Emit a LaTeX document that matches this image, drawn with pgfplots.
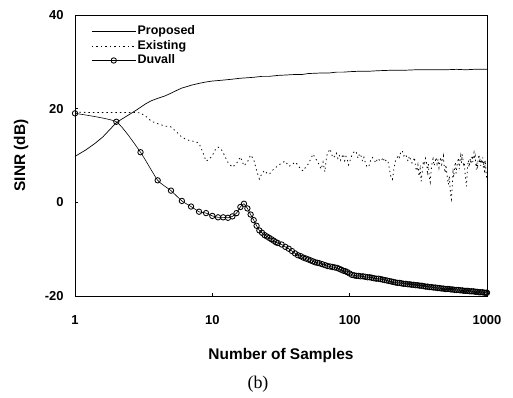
\documentclass[border=0pt]{standalone}
\usepackage{fontspec}
\setmainfont{Liberation Sans}
\newfontfamily\capfont{Liberation Serif}
\usepackage{pgfplots}
\pgfplotsset{compat=1.18}
\begin{document}
\begin{tikzpicture}
\useasboundingbox (-75bp,-102bp) rectangle (438bp,296bp);
\begin{axis}[
  at={(0bp,0bp)}, anchor=south west,
  scale only axis, width=412bp, height=281bp,
  xmode=log, log basis x=10,
  xmin=1, xmax=1000, ymin=-20, ymax=40,
  xtick={1,10,100,1000}, xticklabels={1,10,100,1000},
  ytick={-20,0,20,40},
  xminorticks=false, yminorticks=false,
  tick align=inside, xtick pos=bottom, ytick pos=left,
  major tick length=3bp,
  axis line style={line width=0.8bp},
  tick style={line width=0.6bp, black},
  /pgf/number format/assume math mode=true,
  ticklabel style={font=\fontsize{13}{15}\selectfont\bfseries},
  xticklabel style={anchor=north, yshift=-16bp},
  yticklabel style={anchor=east, xshift=-8bp},
  xlabel={Number of Samples},
  ylabel={SINR (dB)},
  label style={font=\fontsize{15.5}{18}\selectfont\bfseries},
  xlabel style={at={(axis description cs:0.5,-0.21)}, anchor=center},
  ylabel style={at={(axis description cs:-0.131,0.5)}, anchor=center},
  legend style={draw=none, fill=none, at={(axis description cs:0.032,0.975)}, anchor=north west,
    font=\fontsize{12.5}{14}\selectfont\bfseries, row sep=0pt,
    nodes={inner sep=1.5bp, text height=9bp, text depth=2.5bp}},
  legend cell align=left,
  legend image code/.code={\draw[mark repeat=2,mark phase=2,#1] plot coordinates {(0bp,0bp) (22bp,0bp) (44bp,0bp)};},
]
% Proposed
\addplot[black, line width=0.7bp] coordinates {
(1,9.8) (1.2,11.2) (1.4,12.6) (1.6,14.0) (1.8,15.6) (2,17.0) (2.2,17.8) (2.5,18.8) (2.8,19.7) (3,20.3)
(3.3,21.1) (3.6,21.7) (4,22.2) (4.5,22.7) (5,23.3) (5.5,23.9) (6,24.4) (6.5,24.7) (7,25.0) (8,25.4)
(9,25.7) (10,25.9) (11,26.0) (12,26.1) (14,26.3) (16,26.5) (18,26.6) (20,26.7) (23,26.9) (26,26.9)
(30,27.1) (35,27.2) (40,27.3) (45,27.3) (50,27.5) (60,27.6) (70,27.6) (80,27.8) (90,27.8) (100,27.9)
(120,28.0) (140,28.0) (160,28.1) (200,28.2) (250,28.2) (300,28.3) (400,28.3) (500,28.3) (600,28.4)
(700,28.3) (800,28.4) (1000,28.4)
};
\addlegendentry{Proposed}
% Existing
\addplot[black, line width=0.8bp, dash pattern=on 1.3bp off 3.2bp] coordinates {
(1,19.3) (1.2,19.2) (1.4,19.2) (1.6,19.2) (1.8,19.2) (2,19.2) (2.3,19.2) (2.6,19.2) (3,19.1) (3.3,18.3)
(3.6,17.3) (4,16.8) (4.5,16.3) (5,16.1) (5.5,15.0) (6,13.9) (6.5,13.4) (7,13.1) (7.5,13.0) (8,12.6)
(8.5,10.8) (9,8.8) (9.5,9.2) (10,10.0) (10.5,11.2) (11,11.8) (11.5,11.5) (12,10.6) (12.5,9.5) (13,8.5)
(14,7.5) (15,8.3) (16,9.7) (17,7.8) (18,8.6) (19,10.1) (20,9.2) (21,6.8) (22,5.0) (23,6.2)
(24,6.8) (25,6.2) (26,6.0) (27,6.6) (28,7.1) (30,7.8) (32,8.4) (34,8.8) (36,7.7) (38,8.0)
(40,8.6) (42,8.0) (44,7.0) (46,6.7) (48,7.6) (50,8.2) (52,9.2) (54,10.3) (56,9.6) (58,8.8)
(60,8.0) (62,7.1) (64,8.6) (66,6.5) (68,9.9) (70,10.8) (72,11.4) (74,10.2) (76,9.5) (78,9.9)
(80,10.5) (82,9.4) (84,10.1) (86,9.0) (88,9.7) (90,10.3) (92,8.9) (94,9.8) (96,9.2) (98,8.0)
(100,8.6) (103,9.8) (106,10.5) (109,11.0) (112,10.6) (115,9.4) (118,10.4) (121,9.9) (124,8.8) (127,9.6)
(130,8.5) (134,7.5) (138,7.7) (142,8.9) (146,9.6) (150,9.2) (155,8.4) (160,9.4) (165,9.0) (170,8.8)
(175,9.6) (180,8.6) (185,9.1) (190,8.8) (195,7.0) (200,5.4) (205,4.9) (210,7.2) (215,8.8) (220,9.2)
(225,10.1) (230,9.6) (236,10.8) (242,11.0) (248,9.9) (254,10.3) (260,9.7) (266,8.8) (272,9.9) (278,9.1)
(284,8.4) (290,8.6) (296,9.6) (302,7.5) (308,6.7) (314,8.0) (320,5.6) (326,7.2) (332,4.5) (338,6.6)
(344,8.8) (350,7.9) (356,9.4) (362,8.8) (368,6.5) (374,8.2) (380,5.4) (386,4.3) (392,6.8) (398,8.4)
(405,9.3) (412,7.8) (419,8.6) (426,9.6) (433,8.2) (440,9.2) (447,7.4) (454,8.8) (461,9.6) (468,8.1)
(475,8.8) (482,9.9) (489,7.2) (496,6.3) (503,8.0) (510,6.0) (517,5.0) (524,3.8) (531,5.6) (538,3.4)
(545,1.2) (552,0.6) (559,4.0) (566,6.5) (573,5.4) (580,7.3) (588,8.6) (596,6.2) (604,7.8) (612,8.6)
(620,9.5) (628,7.1) (636,9.0) (644,10.0) (652,8.4) (660,10.3) (668,9.2) (676,7.6) (684,8.5) (692,6.3)
(700,5.0) (708,3.4) (716,5.8) (724,8.0) (732,9.0) (740,7.5) (748,8.5) (756,9.4) (764,8.2) (772,9.2)
(780,10.0) (788,8.6) (796,9.9) (804,10.6) (812,9.3) (820,9.9) (828,8.4) (836,7.0) (844,8.6) (852,7.1)
(860,8.8) (868,9.6) (876,10.2) (884,8.5) (892,9.4) (900,7.8) (910,9.2) (920,8.2) (930,9.6) (940,7.4)
(950,8.8) (960,6.2) (970,9.0) (980,7.2) (990,5.6) (1000,4.9)
};
\addlegendentry{Existing}
% Duvall
\addplot[black, line width=0.6bp, smooth, tension=0.3, mark=o, mark size=2.7bp, mark options={solid, fill=white, line width=0.85bp}] coordinates {
(1,19.0) (2,17.2) (3,10.7) (4,4.7) (5,2.5) (6,0.3) (7,-0.9) (8,-2.0) (9,-2.3) (10,-2.9)
(11,-3.2) (12,-3.2) (13,-3.3) (14,-3.0) (15,-2.3) (16,-1.0) (17,-0.3) (18,-1.3) (19,-2.6) (20,-3.8)
(21,-5.0) (22,-6.0) (23,-6.5) (24,-7.0) (25,-7.3) (26,-7.6) (27,-7.9) (28,-8.2) (29,-8.5) (30,-8.7)
(32,-9.0) (34,-9.5) (36,-9.9) (38,-10.4) (40,-10.9) (42,-11.3) (44,-11.5) (46,-11.8) (48,-12.0) (50,-12.2)
(52,-12.4) (54,-12.6) (56,-12.8) (58,-12.9) (60,-13.0) (63,-13.2) (66,-13.4) (69,-13.6) (72,-13.7) (75,-13.8)
(78,-13.9) (81,-14.0) (84,-14.2) (87,-14.4) (90,-14.6) (93,-14.7) (96,-14.9) (100,-15.2) (104,-15.5) (108,-15.6)
(112,-15.7) (116,-15.7) (120,-15.8) (125,-15.8) (130,-15.9) (135,-16.0) (140,-16.0) (145,-16.1) (150,-16.2) (156,-16.3)
(162,-16.3) (168,-16.4) (174,-16.5) (180,-16.6) (187,-16.7) (194,-16.8) (201,-16.9) (208,-17.0) (215,-17.1) (223,-17.2)
(231,-17.2) (239,-17.3) (247,-17.4) (256,-17.4) (265,-17.5) (274,-17.5) (283,-17.6) (293,-17.6) (303,-17.7) (313,-17.7)
(324,-17.8) (335,-17.8) (346,-17.9) (358,-18.0) (370,-18.0) (382,-18.1) (395,-18.1) (408,-18.2) (422,-18.2) (436,-18.3)
(450,-18.3) (465,-18.4) (480,-18.4) (496,-18.5) (512,-18.5) (529,-18.5) (546,-18.6) (564,-18.6) (582,-18.7) (601,-18.7)
(620,-18.7) (640,-18.8) (660,-18.8) (681,-18.9) (703,-18.9) (725,-18.9) (748,-19.0) (772,-19.0) (796,-19.0) (821,-19.1)
(847,-19.1) (873,-19.2) (900,-19.2) (928,-19.2) (957,-19.3) (986,-19.3) (1000,-19.3)
};
\addlegendentry{Duvall}
\end{axis}
\node[font=\capfont\fontsize{18}{20}\selectfont, anchor=center] at (183bp,-88bp) {(b)};
\end{tikzpicture}
\end{document}
